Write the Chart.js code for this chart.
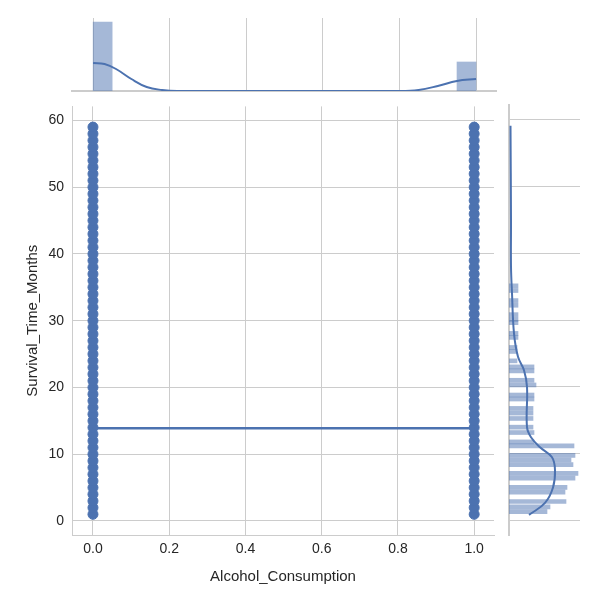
<!DOCTYPE html>
<html><head>
<script src="https://cdn.jsdelivr.net/npm/chart.js@4"></script>
<style>
body{margin:0;background:#fff;width:600px;height:600px;position:relative;overflow:hidden}
canvas{position:absolute}
</style></head><body>
<canvas id="top" style="left:0;top:0;width:500px;height:100px"></canvas>
<canvas id="main" style="left:0;top:90px;width:500px;height:500px"></canvas>
<canvas id="right" style="left:500px;top:100px;width:100px;height:500px"></canvas>
<script>
const BLUE = '#4c72b0';
const BAR = 'rgba(76,114,176,0.5)';
const GRID = '#cccccc';
const FONT = "'Liberation Sans', Arial, sans-serif";

// main scatter: alcohol 0/1, survival 1..59 months
const alcoholLevels = [0, 1];
const survivalMonths = [];
for (let m = 1; m <= 59; m++) survivalMonths.push(m);
const regLine = [{x: 0, y: 13.9}, {x: 1, y: 13.9}];

// top marginal histogram (relative heights) and kde
const topBins = [{x: 0.025, y: 69}, {x: 0.975, y: 29}];
const topKde = [[0,28],[0.03,27],[0.06,22],[0.1,12],[0.14,4],[0.18,1],[0.22,0],[0.8,0],[0.85,1],[0.9,5],[0.95,10],[1,12]];

// right marginal histogram (bin centre in months, relative length)
const rightBinCentres = [1.4,2.1,2.9,4.3,5,6.4,7.1,8.4,9.1,9.8,11.2,11.8,13.2,14,15.3,16.1,16.8,18.2,18.8,20.3,21,22.4,23,23.9,25.3,25.9,27.4,28,29.6,30.1,30.8,32.2,32.9,34.4,35.1];
const rightBinCounts  = [38,41,57,56,58,66,69,64,62,66,65,25,25,24,24,24,24,25,25,27,25,25,25,8,8,8,9,9,9,9,9,9,9,9,9];
const rightKde = [[20,0.9],[36,2.7],[44,5],[46,7.6],[43,9.5],[31,11],[22,12.5],[18,14],[18,20],[15,22.5],[9,24.5],[5,28],[3,34],[2,38],[2,45],[1.5,59]];

const tickFont = {family: FONT, size: 14};
Chart.defaults.animation = false;
Chart.defaults.plugins.legend.display = false;
Chart.defaults.plugins.tooltip.enabled = false;

const pts = [];
alcoholLevels.forEach(a => survivalMonths.forEach(m => pts.push({x: a, y: m})));

new Chart(document.getElementById('main'), {
  type: 'scatter',
  data: {datasets: [
    {data: regLine, type: 'line', borderColor: BLUE, borderWidth: 2.5, pointRadius: 0, order: 0},
    {data: pts, backgroundColor: BLUE, borderColor: BLUE, pointRadius: 5, order: 1}
  ]},
  options: {
    responsive: false,
    layout: {padding: {top: 5, right: 4, left: 20}},
    scales: {
      x: {min: -0.055, max: 1.052, afterFit: s => { s.height = 55; },
        afterBuildTicks: s => { s.ticks = [0,0.2,0.4,0.6,0.8,1].map(v => ({value: v})); },
        ticks: {font: tickFont, color: '#262626', callback: v => v.toFixed(1), padding: 6},
        grid: {color: GRID, drawTicks: false}, border: {color: GRID},
        title: {display: true, text: 'Alcohol_Consumption', font: {family: FONT, size: 15}, color: '#262626', padding: {top: 4}}},
      y: {min: -2.1, max: 62.1, afterFit: s => { s.width = 52; },
        afterBuildTicks: s => { s.ticks = [0,10,20,30,40,50,60].map(v => ({value: v})); },
        ticks: {font: tickFont, color: '#262626', padding: 8},
        grid: {color: GRID, drawTicks: false}, border: {color: GRID},
        title: {display: true, text: 'Survival_Time_Months', font: {family: FONT, size: 15}, color: '#262626', padding: {bottom: 4}}}
    }
  }
});

new Chart(document.getElementById('top'), {
  type: 'bar',
  data: {datasets: [
    {type: 'line', data: topKde.map(p => ({x: p[0], y: p[1]})), borderColor: BLUE, borderWidth: 2, pointRadius: 0, tension: 0.4, order: 0},
    {data: topBins, backgroundColor: BAR, barThickness: 19, order: 1}
  ]},
  options: {
    responsive: false,
    layout: {padding: {left: 72, right: 4, top: 18, bottom: 9}},
    scales: {
      x: {type: 'linear', offset: false, min: -0.055, max: 1.052, ticks: {display: false},
        afterBuildTicks: s => { s.ticks = [0,0.2,0.4,0.6,0.8,1].map(v => ({value: v})); },
        afterFit: s => { s.height = 0; },
        grid: {color: GRID, drawTicks: false, offset: false}, border: {color: GRID, width: 2}},
      y: {min: 0, max: 73, display: false}
    }
  }
});

new Chart(document.getElementById('right'), {
  type: 'bar',
  data: {datasets: [
    {type: 'line', data: rightKde.map(p => ({x: p[0], y: p[1]})), borderColor: BLUE, borderWidth: 2, pointRadius: 0, tension: 0.4, order: 0},
    {data: rightBinCentres.map((c, i) => ({x: rightBinCounts[i], y: c})), backgroundColor: BAR, barThickness: 4, order: 1}
  ]},
  options: {
    responsive: false,
    indexAxis: 'y',
    layout: {padding: {left: 9, right: 20, top: 5, bottom: 65}},
    scales: {
      y: {type: 'linear', offset: false, min: -2.1, max: 62.1, ticks: {display: false},
        afterBuildTicks: s => { s.ticks = [0,10,20,30,40,50,60].map(v => ({value: v})); },
        afterFit: s => { s.width = 0; },
        grid: {color: GRID, drawTicks: false, offset: false}, border: {color: GRID, width: 2}},
      x: {min: 0, max: 71, display: false}
    }
  }
});
</script>
</body></html>
